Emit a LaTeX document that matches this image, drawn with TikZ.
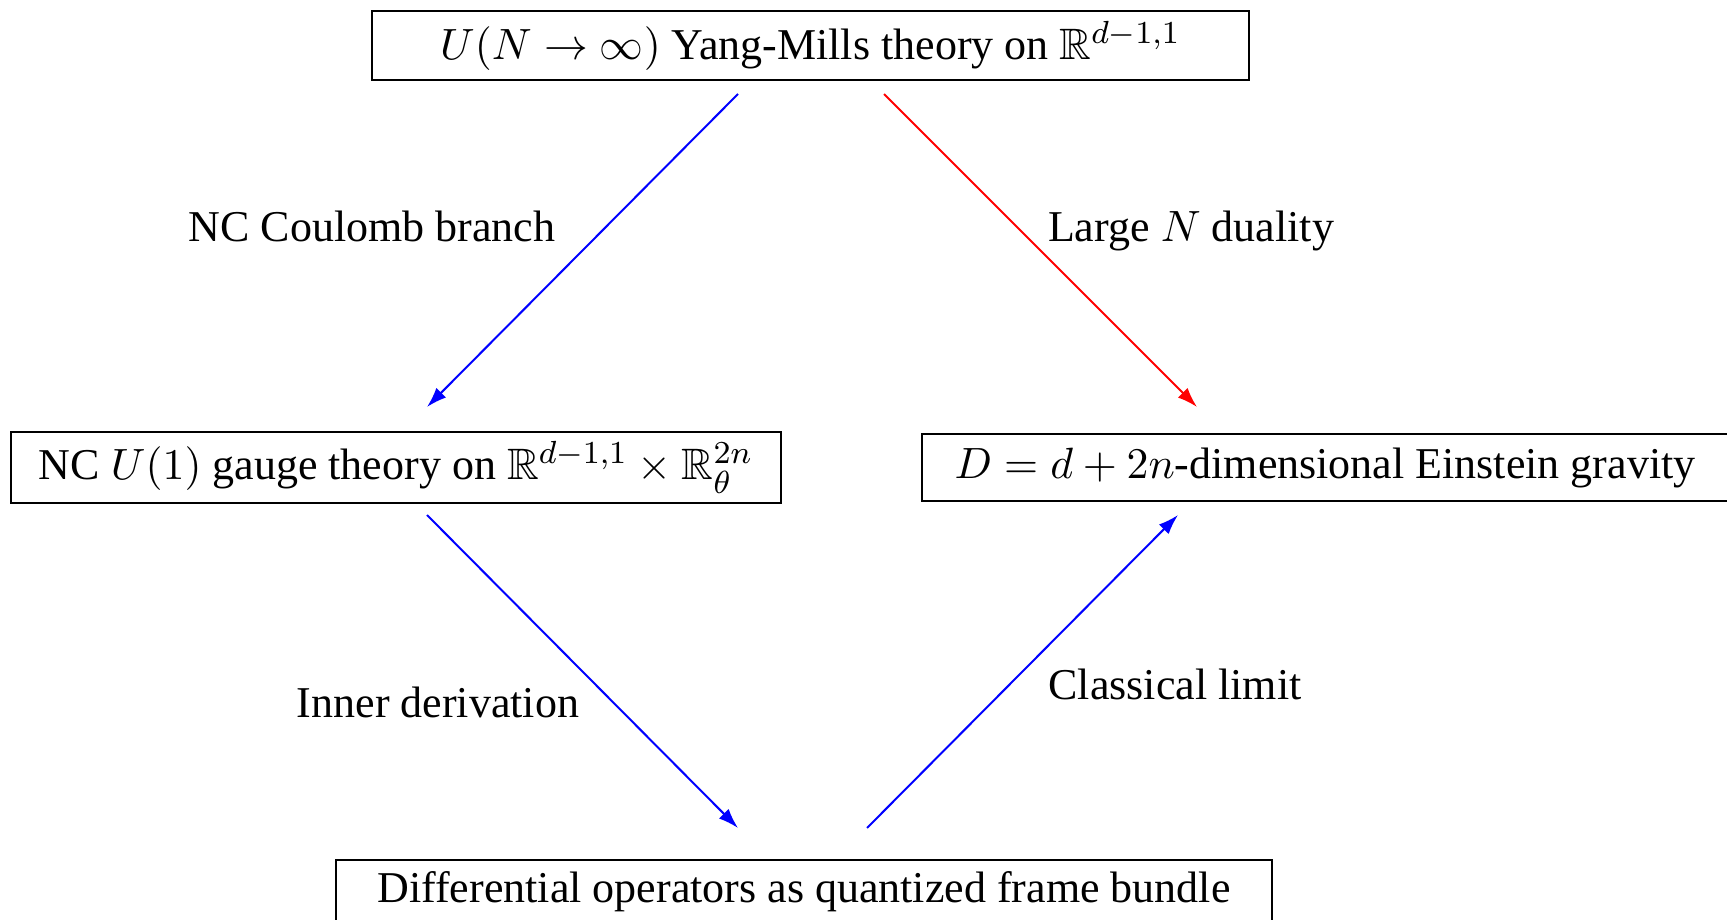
\documentclass[tikz,border=0pt]{standalone}
\usepackage{amssymb}
\usepackage{fontspec}
\setmainfont{Liberation Serif}
\usetikzlibrary{arrows.meta}
\begin{document}
\begin{tikzpicture}[x=0.25pt,y=-0.25pt,
  box/.style={draw,line width=0.6pt,inner sep=0pt,font=\fontsize{11}{13}\selectfont},
  lbl/.style={font=\fontsize{11}{13}\selectfont,inner sep=0pt,anchor=base},
  arr/.style={line width=0.5pt,-{Latex[length=5pt,width=3.4pt]}}]
\useasboundingbox (0,0) rectangle (1727,920);
\node[box,minimum width=219.25pt,minimum height=17.25pt] (top) at (810.5,45.5) {$U(N\to\infty)$ Yang-Mills theory on $\mathbb{R}^{d-1,1}$};
\node[box,minimum width=192.5pt,minimum height=17.75pt] (left) at (396,467.5) {NC $U(1)$ gauge theory on $\mathbb{R}^{d-1,1}\times\mathbb{R}^{2n}_{\theta}$};
\node[box,minimum width=201.5pt,minimum height=16.75pt] (right) at (1325,467.5) {$D=d+2n$-dimensional Einstein gravity};
\node[box,minimum width=234pt,text height=10.5pt,text depth=12pt,anchor=north] (bot) at (804,859) {Differential operators as quantized frame bundle};
\coordinate (a1s) at (738,94);
\coordinate (a1e) at (427,407);
\coordinate (a2s) at (884,94);
\coordinate (a2e) at (1197,407);
\coordinate (a3s) at (427,515);
\coordinate (a3e) at (738,828);
\coordinate (a4s) at (867,828);
\coordinate (a4e) at (1178,515);
\draw[arr,blue] (a1s) -- (a1e);
\draw[arr,red] (a2s) -- (a2e);
\draw[arr,blue] (a3s) -- (a3e);
\draw[arr,blue] (a4s) -- (a4e);
\node[lbl] (l1) at (372,242) {NC Coulomb branch};
\node[lbl] (l2) at (1191,242) {Large $N$ duality};
\node[lbl] (l3) at (438,717) {Inner derivation};
\node[lbl] (l4) at (1175,700) {Classical limit};
\end{tikzpicture}
\end{document}
